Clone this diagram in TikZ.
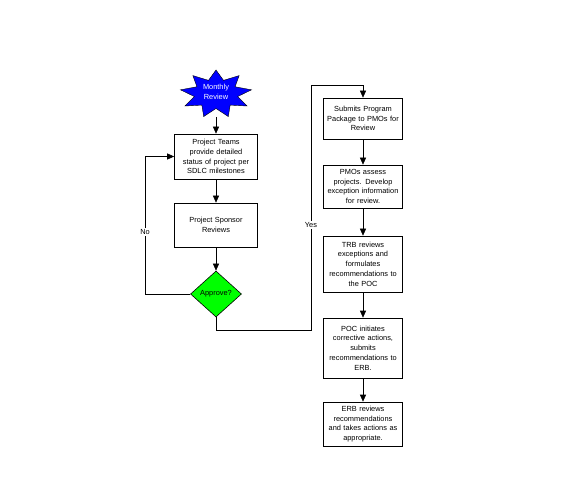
\documentclass[tikz,border=0pt]{standalone}
\usepackage{fontspec}
\setmainfont{Liberation Sans}
\usetikzlibrary{shapes.geometric,arrows.meta,calc}
\begin{document}
\begin{tikzpicture}[x=1pt,y=-1pt,
  txt/.style={font=\fontsize{7.4}{9.8}\selectfont},
  stepbox/.style={draw=black,line width=0.6pt,fill=white,align=center,txt,inner sep=1pt},
  conn/.style={draw=black,line width=0.6pt},
  arr/.style={conn,-{Triangle[width=6pt,length=7pt]}},
  lbl/.style={txt,fill=white,inner sep=1pt}]
\useasboundingbox (0,0) rectangle (586,494);
\fill[white] (0,0) rectangle (586,494);
% starburst
\fill[blue,draw=black,line width=0.4pt]
  (216,70) \foreach \a in {90,130,170,210,250,290,330,10,50}{
     -- ($(216,94)+({36*cos(\a)},{-24*sin(\a)})$)
     -- ($(216,94)+({22*cos(\a+20)},{-14.5*sin(\a+20)})$)} -- cycle;
\node[txt,text=white,align=center,inner sep=0pt] (star) at (216,92) {Monthly\\Review};
\coordinate (starb) at (216,117);
% left column
\node[stepbox,minimum width=83pt,minimum height=45pt,text width=81pt] (b1) at (216,156.5)
  {Project Teams\\provide detailed\\status of project per\\SDLC milestones};
\node[stepbox,minimum width=83pt,minimum height=44pt,text width=81pt] (b2) at (216,225)
  {Project Sponsor\\Reviews};
\node[diamond,draw=black,line width=0.6pt,fill=green,minimum width=51pt,minimum height=46pt,
  aspect=1.1,inner sep=0pt,txt] (d) at (216,294) {Approve?};
% right column
\node[stepbox,minimum width=78pt,minimum height=41pt,text width=77pt] (b3) at (363,118.5)
  {Submits Program\\Package to PMOs for\\Review};
\node[stepbox,minimum width=78pt,minimum height=43pt,text width=77pt] (b4) at (363,186.5)
  {PMOs assess\\projects. Develop\\exception information\\for review.};
\node[stepbox,minimum width=78pt,minimum height=56pt,text width=77pt] (b5) at (363,264)
  {TRB reviews\\exceptions and\\formulates\\recommendations to\\the POC};
\node[stepbox,minimum width=78pt,minimum height=60pt,text width=77pt] (b6) at (363,348)
  {POC initiates\\corrective actions,\\submits\\recommendations to\\ERB.};
\node[stepbox,minimum width=78pt,minimum height=44pt,text width=77pt] (b7) at (363,424)
  {ERB reviews\\recommendations\\and takes actions as\\appropriate.};
% connectors
\draw[arr] (starb) -- (b1.north);
\draw[arr] (b1.south) -- (b2.north);
\draw[arr] (b2.south) -- (d.north);
\coordinate (n1) at (145,294);
\coordinate (n2) at (145,156.5);
\draw[arr] (d.west) -- (n1) -- (n2) -- (b1.west);
\node[lbl] (no) at (145,232) {No};
\coordinate (y1) at (216,330);
\coordinate (y2) at (311,330);
\coordinate (y3) at (311,85);
\coordinate (y4) at (363,85);
\draw[arr] (d.south) -- (y1) -- (y2) -- (y3) -- (y4) -- (b3.north);
\node[lbl] (yes) at (311,225) {Yes};
\draw[arr] (b3.south) -- (b4.north);
\draw[arr] (b4.south) -- (b5.north);
\draw[arr] (b5.south) -- (b6.north);
\draw[arr] (b6.south) -- (b7.north);
\end{tikzpicture}
\end{document}
